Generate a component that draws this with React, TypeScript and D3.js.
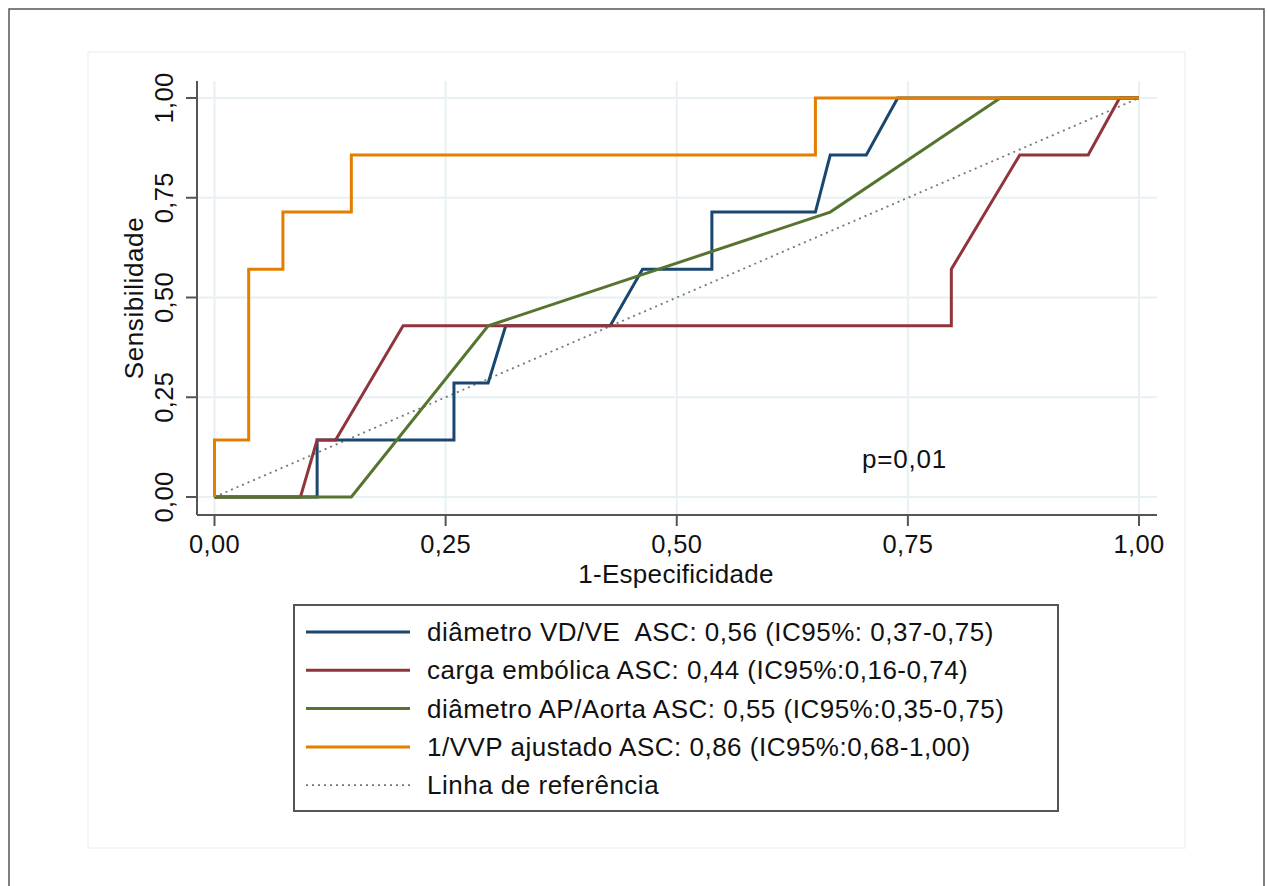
import React from 'react';
import * as d3 from 'd3';

// ROC curves (1-especificidade, sensibilidade)
const vdveX = [0, 0.111, 0.111, 0.259, 0.259, 0.296, 0.315, 0.428, 0.463, 0.538, 0.538, 0.65, 0.666, 0.705, 0.739, 1];
const vdveY = [0, 0, 0.143, 0.143, 0.286, 0.286, 0.429, 0.429, 0.571, 0.571, 0.714, 0.714, 0.857, 0.857, 1, 1];

const cargaX = [0, 0.093, 0.111, 0.131, 0.204, 0.797, 0.797, 0.871, 0.945, 0.979, 1];
const cargaY = [0, 0, 0.143, 0.143, 0.429, 0.429, 0.571, 0.857, 0.857, 1, 1];

const apX = [0, 0.148, 0.296, 0.666, 0.85, 1];
const apY = [0, 0, 0.429, 0.714, 1, 1];

const vvpX = [0, 0, 0.037, 0.037, 0.074, 0.074, 0.148, 0.148, 0.65, 0.65, 1];
const vvpY = [0, 0.143, 0.143, 0.571, 0.571, 0.714, 0.714, 0.857, 0.857, 1, 1];

const refX = [0, 1];
const refY = [0, 1];

const ticks = [0, 0.25, 0.5, 0.75, 1];
const tickLabels = ['0,00', '0,25', '0,50', '0,75', '1,00'];

const legendLabels = [
  'diâmetro VD/VE  ASC: 0,56 (IC95%: 0,37-0,75)',
  'carga embólica ASC: 0,44 (IC95%:0,16-0,74)',
  'diâmetro AP/Aorta ASC: 0,55 (IC95%:0,35-0,75)',
  '1/VVP ajustado ASC: 0,86 (IC95%:0,68-1,00)',
  'Linha de referência',
];

const FONT = '"Liberation Sans", Arial, Helvetica, sans-serif';

export default function App() {
  const W = 1267;
  const H = 886;
  const x = d3.scaleLinear().domain([0, 1]).range([214.5, 1139]);
  const y = d3.scaleLinear().domain([0, 1]).range([497, 98]);
  const line = d3.line<number>();

  const mk = (xs: number[], ys: number[]) =>
    line(xs.map((v, i) => [x(v), y(ys[i])]) as [number, number][]) || '';

  const series = [
    { xs: vdveX, ys: vdveY, color: '#1a476f' },
    { xs: cargaX, ys: cargaY, color: '#90353b' },
    { xs: apX, ys: apY, color: '#55752f' },
    { xs: vvpX, ys: vvpY, color: '#e37e00' },
  ];
  const legendStyles = [
    ...series.map(s => ({ color: s.color, dash: undefined as string | undefined, w: 3 })),
    { color: '#777', dash: '2 4', w: 1.8 },
  ];

  const axisL = 197;
  const axisB = 515;
  const axisT = 81;
  const axisR = 1157;

  return (
    <div style={{ position: 'absolute', left: 0, top: 0 }}>
      <svg width={W} height={H} style={{ display: 'block', background: '#fff' }} fontFamily={FONT}>
        {/* outer frame */}
        <rect x={9} y={9} width={1255} height={H + 10} fill="none" stroke="#555" strokeWidth={1.5} />
        {/* inner panel */}
        <rect x={88} y={52} width={1097} height={796} fill="#fff" stroke="#edf3f5" strokeWidth={1.5} />

        {/* grid */}
        {ticks.map(t => (
          <g key={'g' + t}>
            <line x1={axisL} x2={axisR} y1={y(t)} y2={y(t)} stroke="#e7f0f2" strokeWidth={2} />
            <line x1={x(t)} x2={x(t)} y1={axisT} y2={axisB} stroke="#e7f0f2" strokeWidth={2} />
          </g>
        ))}

        {/* axes */}
        <line x1={axisL} x2={axisL} y1={axisT} y2={axisB} stroke="#555" strokeWidth={2} />
        <line x1={axisL} x2={axisR} y1={axisB} y2={axisB} stroke="#555" strokeWidth={2} />
        {ticks.map((t, i) => (
          <g key={'t' + t}>
            <line x1={axisL - 11} x2={axisL} y1={y(t)} y2={y(t)} stroke="#555" strokeWidth={2} />
            <line x1={x(t)} x2={x(t)} y1={axisB} y2={axisB + 11} stroke="#555" strokeWidth={2} />
            <text x={x(t)} y={553} fontSize={25.5} letterSpacing={0.3} textAnchor="middle" fill="#111">{tickLabels[i]}</text>
            <text transform={`translate(173,${y(t)}) rotate(-90)`} fontSize={25.5} letterSpacing={0.3} textAnchor="middle" fill="#111">
              {tickLabels[i]}
            </text>
          </g>
        ))}
        <text x={676} y={583} fontSize={26} letterSpacing={0.3} textAnchor="middle" fill="#111">1-Especificidade</text>
        <text transform="translate(143,298) rotate(-90)" fontSize={26} letterSpacing={0.6} textAnchor="middle" fill="#111">Sensibilidade</text>

        {/* reference line */}
        <path d={mk(refX, refY)} fill="none" stroke="#777" strokeWidth={1.8} strokeDasharray="2 4" />

        {/* curves */}
        {series.map((s, i) => (
          <path key={'s' + i} d={mk(s.xs, s.ys)} fill="none" stroke={s.color} strokeWidth={3} strokeLinejoin="miter" />
        ))}

        <text x={862} y={468} fontSize={26} letterSpacing={0.8} fill="#111">p=0,01</text>

        {/* legend */}
        <rect x={294} y={605} width={764} height={206} fill="#fff" stroke="#555" strokeWidth={2} />
        {legendLabels.map((lab, i) => {
          const cy = 632 + i * 38.3;
          const st = legendStyles[i];
          return (
            <g key={'l' + i}>
              <line x1={306} x2={410} y1={cy} y2={cy} stroke={st.color} strokeWidth={st.w} strokeDasharray={st.dash} />
              <text x={427} y={cy + 9} fontSize={26} letterSpacing={0.5} fill="#111" style={{ whiteSpace: 'pre' }}>{lab}</text>
            </g>
          );
        })}
      </svg>
    </div>
  );
}
